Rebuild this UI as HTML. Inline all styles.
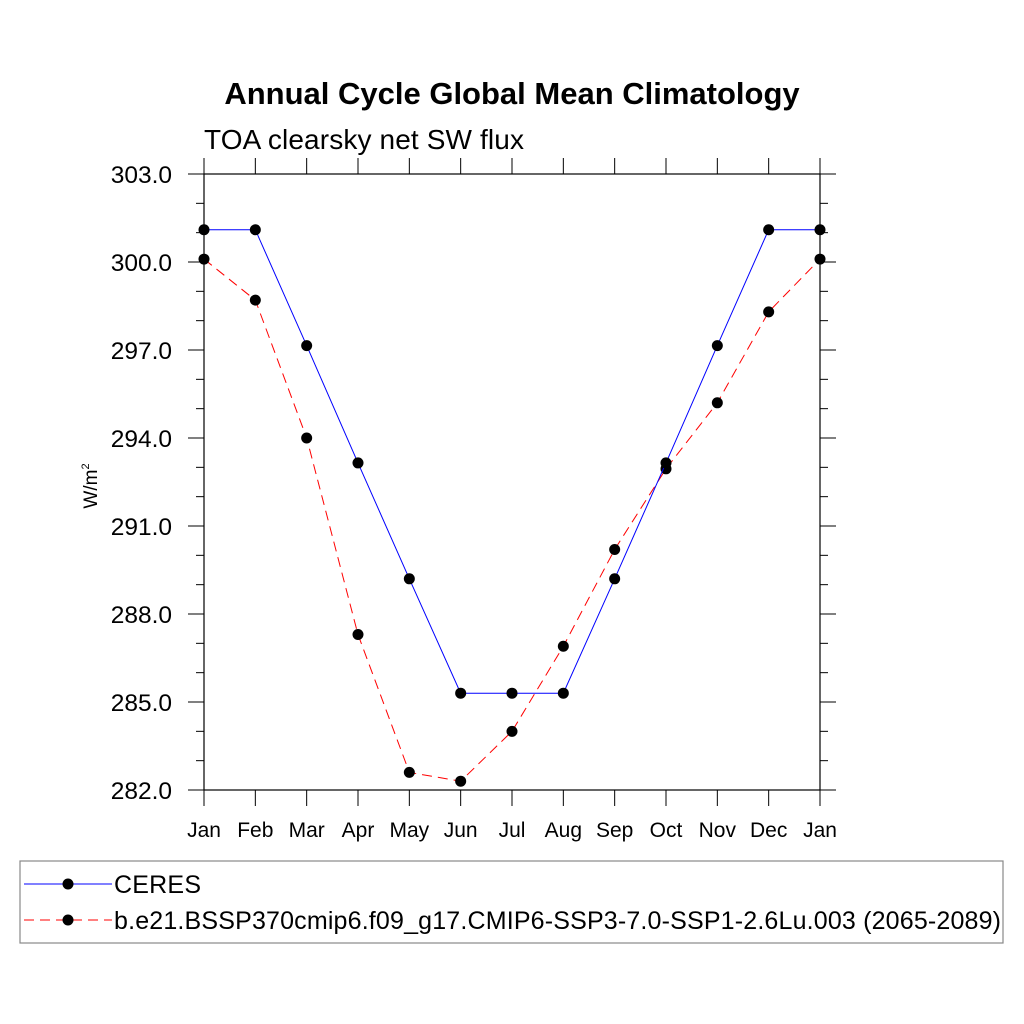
<!DOCTYPE html>
<html><head><meta charset="utf-8"><style>
html,body{margin:0;padding:0;background:#fff;}
svg{display:block;font-family:"Liberation Sans",sans-serif;}
</style></head><body>
<svg id="chart" width="1024" height="1024" viewBox="0 0 1024 1024">
<text x="512" y="104" text-anchor="middle" font-size="31" font-weight="bold">Annual Cycle Global Mean Climatology</text>
<text x="204" y="149" font-size="28" textLength="320">TOA clearsky net SW flux</text>
<text transform="translate(97,486) rotate(-90)" text-anchor="middle" font-size="19">W/m<tspan dy="-8" font-size="11">2</tspan></text>
<g id="axes"></g>
<g id="series"></g>
<rect x="20" y="861" width="983" height="82" fill="none" stroke="#888" stroke-width="1.2"/>
<g>
<line x1="24" y1="884" x2="112" y2="884" stroke="#0000ff" stroke-width="1"/>
<circle cx="68" cy="884" r="5.5" fill="#000"/>
<text x="114" y="893" font-size="25" textLength="87">CERES</text>
</g>
<g>
<line x1="24" y1="920" x2="112" y2="920" stroke="#ff0000" stroke-width="1" stroke-dasharray="10,6"/>
<circle cx="68" cy="920" r="5.5" fill="#000"/>
<text x="114" y="929" font-size="25" textLength="887">b.e21.BSSP370cmip6.f09_g17.CMIP6-SSP3-7.0-SSP1-2.6Lu.003 (2065-2089)</text>
</g>
</svg>
<script>
const months = ["Jan","Feb","Mar","Apr","May","Jun","Jul","Aug","Sep","Oct","Nov","Dec","Jan"];
const ceresValues = [301.1,301.1,297.15,293.15,289.2,285.3,285.3,285.3,289.2,293.15,297.15,301.1,301.1];
const modelValues = [300.1,298.7,294.0,287.3,282.6,282.3,284.0,286.9,290.2,292.95,295.2,298.3,300.1];
const yTickLabels = ["282.0","285.0","288.0","291.0","294.0","297.0","300.0","303.0"];

const NS="http://www.w3.org/2000/svg";
const L=204,R=820,T=174,B=790,yMin=282,yMax=303;
const xs=i=>L+(R-L)*i/(months.length-1);
const ys=v=>B-(v-yMin)/(yMax-yMin)*(B-T);
function mk(tag,attrs,parent){const e=document.createElementNS(NS,tag);for(const k in attrs)e.setAttribute(k,attrs[k]);parent.appendChild(e);return e;}
const ax=document.getElementById('axes');
const frame=mk('rect',{x:L,y:T,width:R-L,height:B-T,fill:'none',stroke:'#000','stroke-width':1.2},ax);


for(let v=yMin;v<=yMax;v++){
  const y=ys(v);const major=(v-yMin)%3===0;const len=major?16:8;
  mk('line',{x1:L-len,y1:y,x2:L,y2:y,stroke:'#000','stroke-width':1},ax);
  mk('line',{x1:R,y1:y,x2:R+len,y2:y,stroke:'#000','stroke-width':1},ax);
}
yTickLabels.forEach(s=>{
  const v=parseFloat(s);
  const t=mk('text',{x:L-32,y:ys(v)+9,'text-anchor':'end','font-size':24.5},ax);
  t.textContent=s;
  
  
});
months.forEach((m,i)=>{
  const x=xs(i);
  mk('line',{x1:x,y1:B,x2:x,y2:B+16,stroke:'#000','stroke-width':1},ax);
  mk('line',{x1:x,y1:T-16,x2:x,y2:T,stroke:'#000','stroke-width':1},ax);
  const t=mk('text',{x:x,y:837,'text-anchor':'middle','font-size':21},ax);
  t.textContent=m;
  
  
});
const sg=document.getElementById('series');
function drawSeries(vals,color,dash,name){
  const g=mk('g',{},sg);
  
  
  const pl=mk('polyline',{points:vals.map((v,i)=>xs(i)+','+ys(v)).join(' '),fill:'none',stroke:color,'stroke-width':1,'stroke-dasharray':dash},g);
  
  
  vals.forEach((v,i)=>{
    const c=mk('circle',{cx:xs(i),cy:ys(v),r:5.5,fill:'#000'},g);
    
    
  });
}
drawSeries(modelValues,'#ff0000','10,6','model-series');
drawSeries(ceresValues,'#0000ff','none','ceres-series');
</script>
</body></html>
